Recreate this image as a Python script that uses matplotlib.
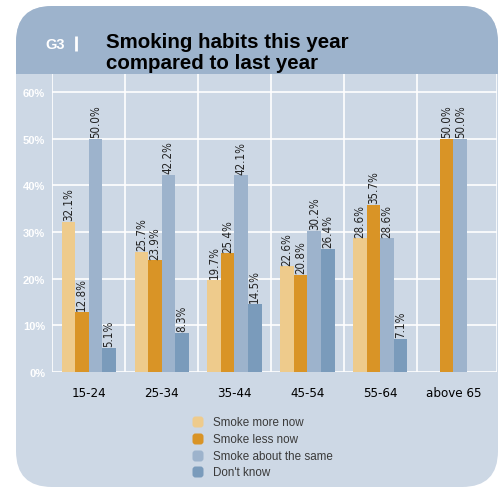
import numpy as np
import matplotlib
matplotlib.use("Agg")
import matplotlib.pyplot as plt
from matplotlib.patches import FancyBboxPatch, Rectangle

categories = ["15-24", "25-34", "35-44", "45-54", "55-64", "above 65"]
series_names = ["Smoke more now", "Smoke less now", "Smoke about the same", "Don't know"]
more_now = [32.1, 25.7, 19.7, 22.6, 28.6, None]
less_now = [12.8, 23.9, 25.4, 20.8, 35.7, 50.0]
same = [50.0, 42.2, 42.1, 30.2, 28.6, 50.0]
dont_know = [5.1, 8.3, 14.5, 26.4, 7.1, None]
yticks = [0, 10, 20, 30, 40, 50, 60]
series = [more_now, less_now, same, dont_know]
colors = ["#eecb8c", "#d99426", "#9db3cc", "#7a9bbb"]

PANEL = "#cdd8e5"
HEADER = "#9db3cc"
NARROW = ["Liberation Sans Narrow", "DejaVu Sans"]
SANS = ["Liberation Sans", "DejaVu Sans"]

W, H = 504, 489
fig = plt.figure(figsize=(W / 100, H / 100), dpi=100)
fig.patch.set_facecolor("white")

bg = fig.add_axes([0, 0, 1, 1])
bg.set_xlim(0, W)
bg.set_ylim(H, 0)
bg.axis("off")
bg.set_zorder(0)

px0, py0, px1, py1 = 16, 7, 498, 488
panel = FancyBboxPatch((px0, py0), px1 - px0, py1 - py0,
                       boxstyle="round,pad=0,rounding_size=36",
                       fc=PANEL, ec="none")
bg.add_patch(panel)
header = FancyBboxPatch((px0, py0), px1 - px0, py1 - py0,
                        boxstyle="round,pad=0,rounding_size=36",
                        fc=HEADER, ec="none")
bg.add_patch(header)
clip = Rectangle((0, 0), W, 75, transform=bg.transData)
header.set_clip_path(clip)

# Title
bg.text(45, 49, "G3", color="white", fontsize=10.5, fontweight="bold",
        family=SANS, va="baseline", ha="left")
bg.plot([75.5, 75.5], [37, 52], color="white", lw=2.0, solid_capstyle="butt")
bg.text(106, 48, "Smoking habits this year", color="black", fontsize=14.8,
        fontweight="bold", family=SANS, va="baseline", ha="left")
bg.text(106, 69, "compared to last year", color="black", fontsize=14.8,
        fontweight="bold", family=SANS, va="baseline", ha="left")

# Legend
leg_y = [423, 440, 457, 473]
for yy, c, name in zip(leg_y, colors, series_names):
    bg.add_patch(FancyBboxPatch((192.5, yy - 5.5), 11, 11,
                                boxstyle="round,pad=0,rounding_size=3",
                                fc=c, ec="none"))
    bg.text(213, yy, name, color="#3a3a3a", fontsize=8.4, family=SANS,
            va="center", ha="left")

# Main chart
left, right, top, bottom = 52, 497, 75, 373
ax = fig.add_axes([left / W, (H - bottom) / H, (right - left) / W, (bottom - top) / H])
ax.set_zorder(1)
ax.set_facecolor("none")
n = len(categories)
unit = 73.0
ax.set_xlim(-0.5, -0.5 + (right - left) / unit)
ymax = (bottom - top) / 46.7 * 10
ax.set_ylim(0, ymax)

for s in ax.spines.values():
    s.set_visible(False)
ax.axvline(-0.5, color="white", lw=1.2, zorder=1)
ax.axvline(-0.5 + (right - left) / unit, color="white", lw=1.2, zorder=1)
for k in range(1, n):
    ax.axvline(k - 0.5, color="white", lw=1.2, zorder=1)
for t in yticks:
    ax.axhline(t, color="white", lw=1.2, zorder=1)

bw = 13.5 / unit
x = np.arange(n)
for j, (vals, c) in enumerate(zip(series, colors)):
    for i, v in enumerate(vals):
        if v is None:
            continue
        xc = i + (j - 1.5) * bw
        ax.bar(xc, v, width=bw, color=c, zorder=2, linewidth=0)
        ax.text(xc, v + 0.4, f"{v:.1f}%", rotation=90, ha="center", va="bottom",
                fontsize=8.3, family=NARROW, fontstretch="condensed",
                color="#222222", zorder=3)

ax.set_yticks(yticks)
ax.set_yticklabels([f"{t}%" for t in yticks], color="white", fontsize=8,
                   family=SANS, fontweight="bold")
ax.set_xticks(x)
ax.set_xticklabels(categories, fontsize=9.5, family=NARROW,
                   fontstretch="condensed", color="black")
ax.tick_params(axis="both", length=0)
ax.tick_params(axis="y", pad=5)
ax.tick_params(axis="x", pad=10)

fig.savefig("out.png", dpi=100, facecolor="white")
